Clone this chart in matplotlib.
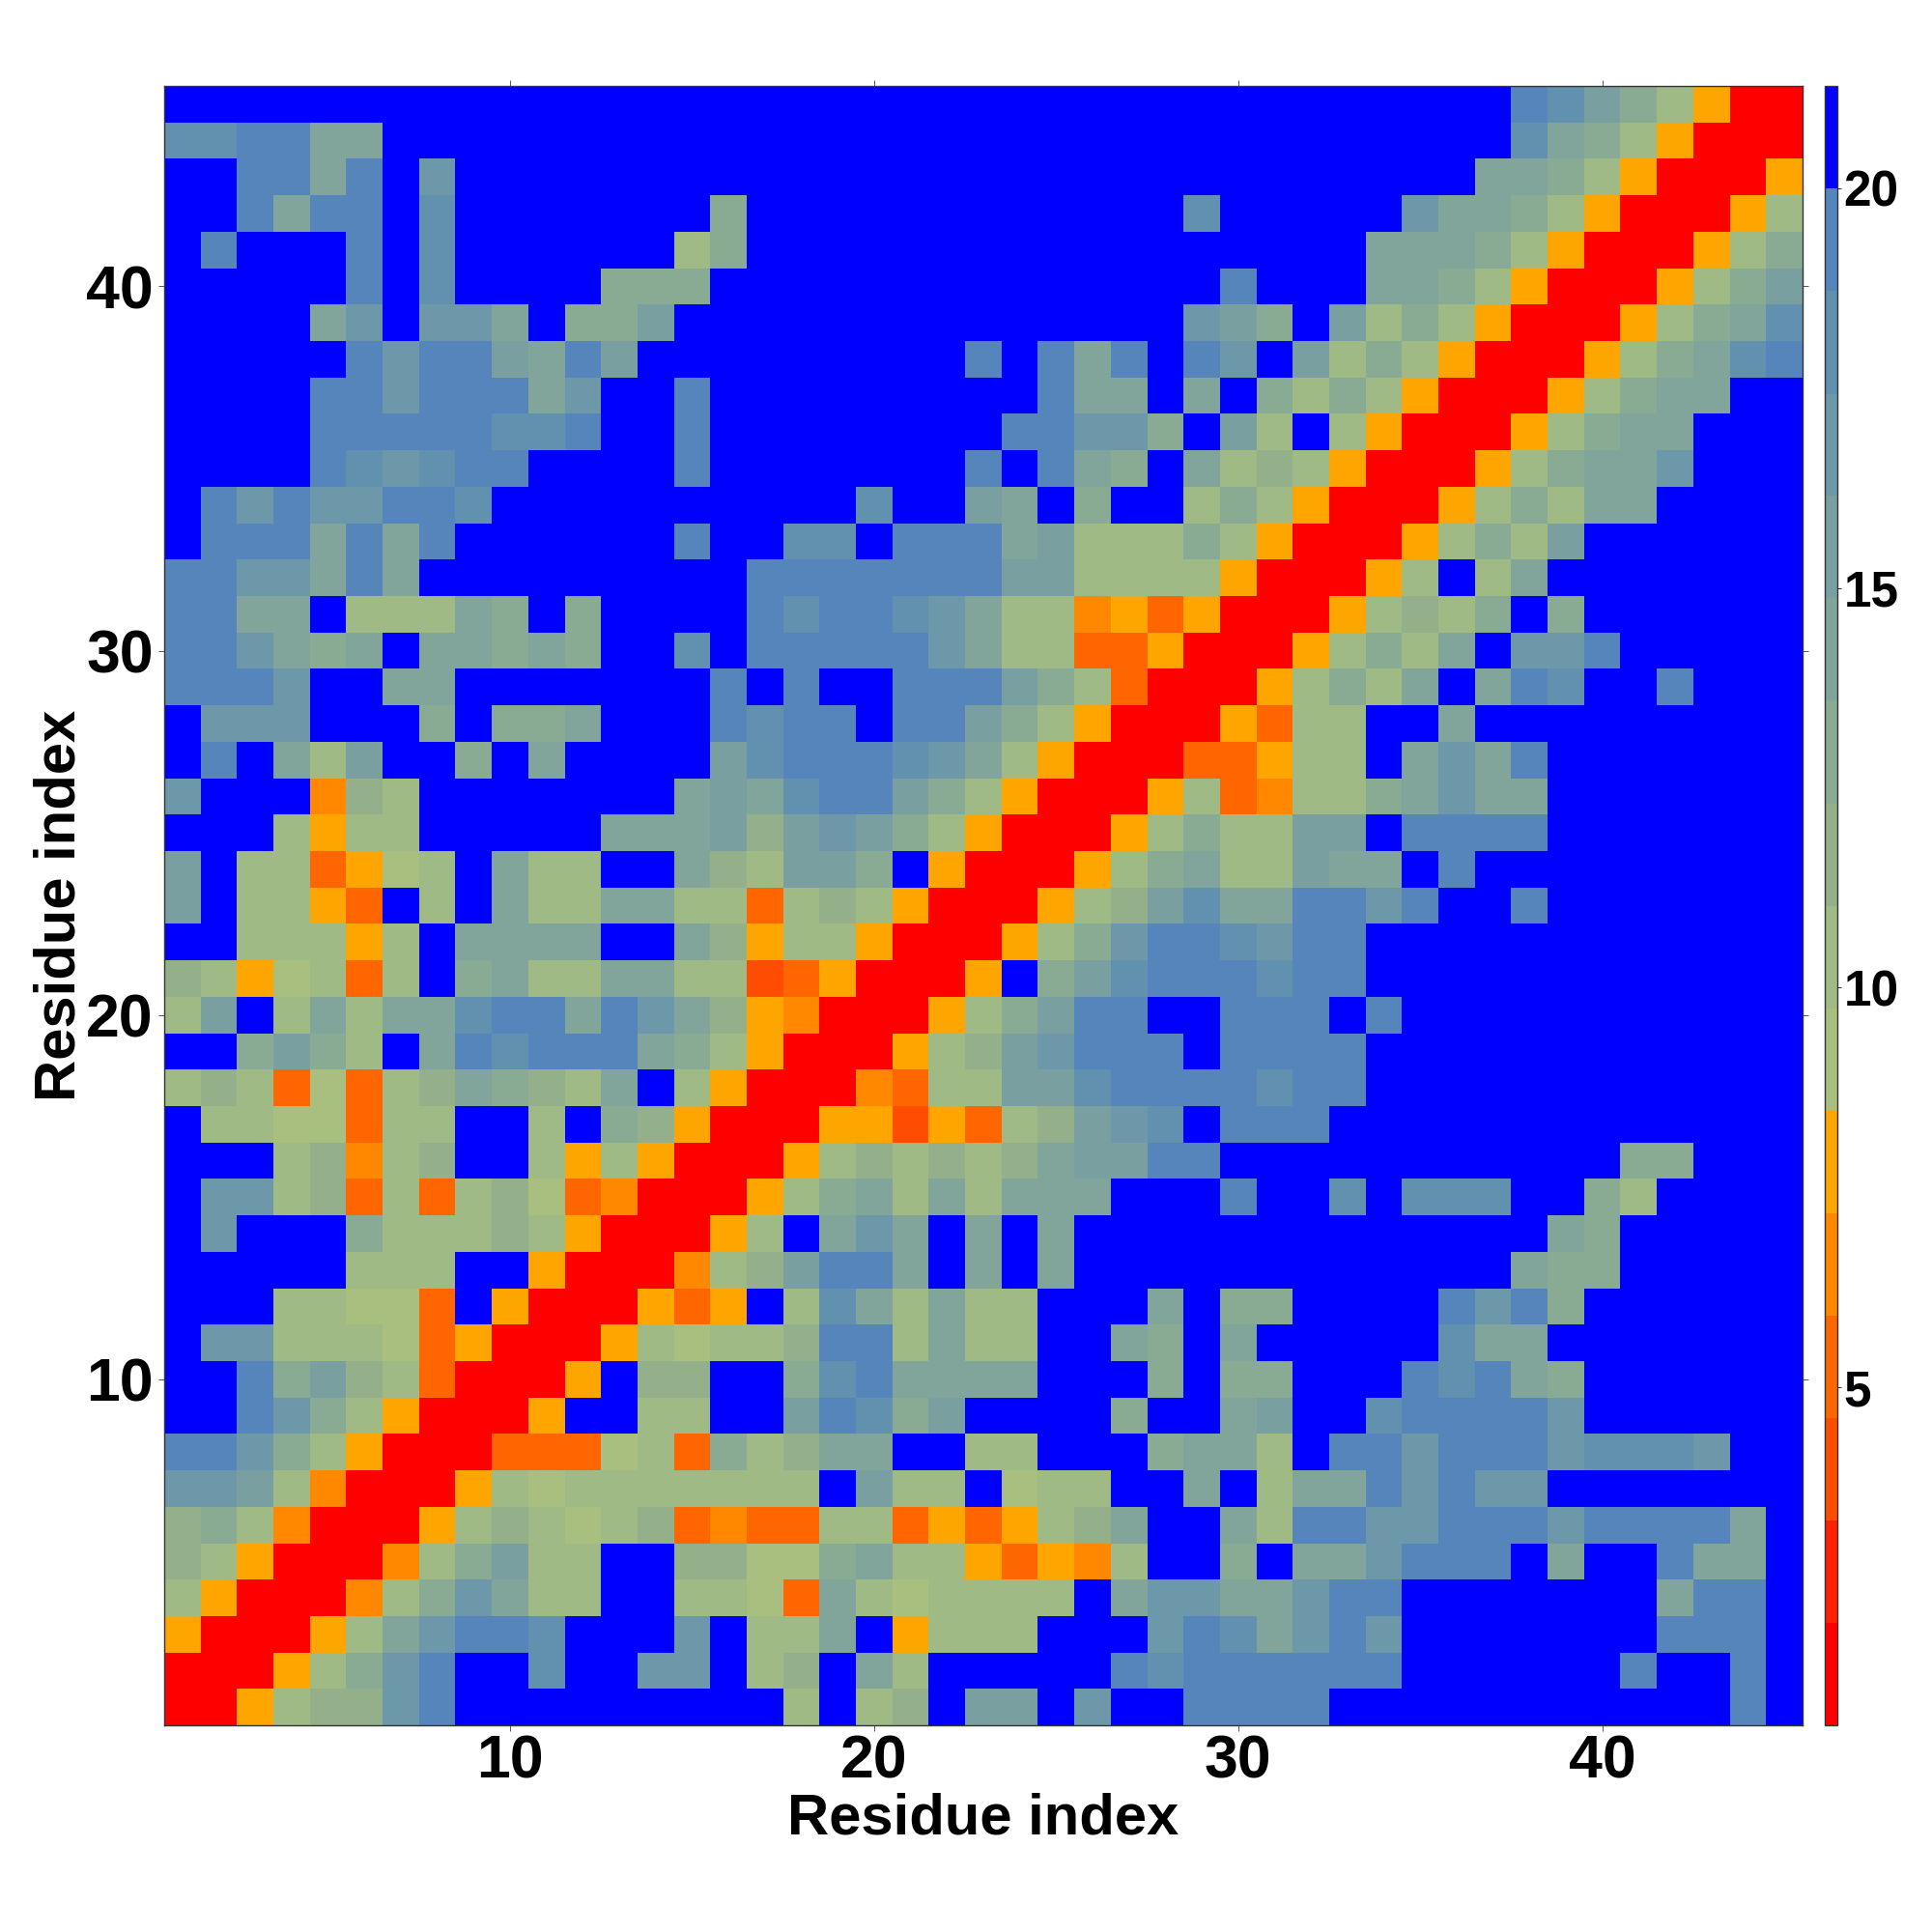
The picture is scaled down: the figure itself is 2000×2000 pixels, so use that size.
import numpy as np
import matplotlib
matplotlib.use("Agg")
import matplotlib.pyplot as plt
from matplotlib.colors import ListedColormap, BoundaryNorm

# One string per row, top row (residue 45) first. Each character is the colour band.
band_rows = [
"FFFFFFFFFFFFFFF FFFFFFFFFFFFFFF FFFFFFFEDB97500",
"DDEEAAFFFFFFFFF FFFFFFFFFFFFFFF FFFFFFFDA975000",
"FFEEAEFCFFFFFFF FFFFFFFFFFFFFFF FFFFFFAA9750005",
"FFEAEEFDFFFFFFF 9FFFFFFFFFFFFDF FFFFCAA97500057",
"FEFFFEFDFFFFFF7 9FFFFFFFFFFFFFF FFFAAA975000579",
"FFFFFEFDFFFF999 FFFFFFFFFFFFFFE FFFAA975000579B",
"FFFFACFCCAF99BF FFFFFFFFFFFFFCB 9FB7975000579AD",
"FFFFFECEEBAEBFF FFFFFFFEFEAEFEC FB7975000579ADE",
"FFFFEECEEEACFFE FFFFFFFFFEAAFAF 97975000579AAFF",
"FFFFEEEEEDDEFFE FFFFFFFFEECC9FB 7F75000579AAFFF",
"FFFFEDCDEEFFFFE FFFFFFFEFEA9FA7 875000579AACFFF",
"FECECCEEDFFFFFF FFFFDFFBAF9FF79 750005797AAFFFF",
"FEEEAEAEFFFFFFE FFDDFEEEAB77797 50005797BFFFFFF",
"EECCAEAFFFFFFFF FEEEEEEEBB77775 00057F7AFFFFFFF",
"EEAAF777A9F9FFF FEDEEDCA7745350 0057879F9FFFFFF",
"EECA9AFAA9A9FFD FEEEEECA7733500 05797AFCCEFFFFF",
"EEECFFAAFFFFFFF EFEFFEEEB973000 5797AFAEDFFEFFF",
"FCCCFFF9F99AFFF EDEEFEEB9750005 377FFAFFFFFFFFF",
"FEFA7BFF9FAFFFF BDEEEDCA7500033 577FACAEFFFFFFF",
"CFFF487FFFFFFFA BADEEB975000573 4779ACAAFFFFFFF",
"FFF7577FFFFFAAA B8BCB9750005797 7BBFEEEEFFFFFFF",
"BF773567FA77FFA 87BB9F5000579A7 7BAAFEFFFFFFFFF",
"BF7753F7FA77AA7 737875000578BDA AEECEFFEFFFFFFF",
"FF77757FAAAAFFA 85775000579CEED CEEFFFFFFFFFFFF",
"8756737F9A77AA7 72350005F9BDEEE DEEFFFFFFFFFFFF",
"7BF7A7AADEEAECA 854000579BEEFFE EEFEFFFFFFFFFFF",
"FF9B97FAEDEEEA9 75000578BCEEEFE EEEFFFFFFFFFFFF",
"78736378A987AF7 50004377BBDEEEE DEEFFFFFFFFFFFF",
"F7766377FF7F985 0005525378BCDFE EEFFFFFFFFFFFFF",
"FFF78478FF75750 005787878ABBEEF FFFFFFFFFF99FFF",
"FCC783737863400 0579A7A7AAAFFFE FFDFDDDFF97FFFF",
"FCFFF9777875000 57FACAFAFAFFFFF FFFFFFFFA9FFFFF",
"FFFFF777FF50004 78BEEAFAFAFFFFF FFFFFFFA99FFFFF",
"FFF77663F500053 5F7DA7A77FFFAF9 9FFFFECE9FFFFFF",
"FCC777635000576 778EE7A77FFA9FA FFFFFDAAFFFFFFF",
"FFE9B8730005F88 FF9DEAAAAFFF9F9 9FFFEDEA9FFFFFF",
"FFEC9750005FF77 FFBED9BFFFF9FFA BFFDEEEECFFFFFF",
"EEC975000333673 978AAFF77FFF9AA 7FEECEEECDDDCFF",
"CCB740005767777 777FB77F677FFAF 7AAECECCFFFFFFF",
"897400057876783 43377353578AFFA 7EECCEEECEEEEAF",
"875000479B77FF8 8669A7753547FF9 FAACEEEFAFFEAAF",
"75000479CA77FF7 763A767777FACCA ACEEFFFFFFFAEEF",
"500057ACEEDFFFC F77AF5777FFFCED ACECFFFFFFFEEEF",
"000579CEFFDFFCC F78FA7FFFFFEDEE EEEEFFFFFFEFFEF",
"005788CEFFFFFFF FF7F78FBBFCFFEE EEFFFFFFFFFFFEF",
]

band_colors = ["#FF0000", "#FF2000", "#FF4D00", "#FF6600", "#FF8800", "#FFA500",
               "#A8BF80", "#9FBA85", "#94B08B", "#8AAB93", "#81A59A", "#7A9FA0",
               "#6C98A9", "#6291B0", "#5585BA", "#0000FF"]
band_edges = [0.77, 2.05, 3.33, 4.61, 5.89, 7.18, 8.46, 9.74, 11.02, 12.30,
              13.59, 14.87, 16.15, 17.43, 18.72, 20.0, 21.28]
band_values = [1.4, 2.7, 4.0, 5.2, 6.5, 7.8, 9.1, 10.4, 11.7, 12.9,
               14.2, 15.5, 16.8, 18.1, 19.4, 20.6]
tick_positions = [10, 20, 30, 40]
cbar_ticks = [5, 10, 15, 20]
axis_label = "Residue index"

rows = [r.replace(" ", "") for r in band_rows]
bad = [i for i, r in enumerate(rows) if len(r) != 45]
assert not bad, bad
levels = np.array([[int(c, 16) for c in r] for r in rows])
values = np.array(band_values)[levels]

plt.rcParams["font.family"] = ["Liberation Sans", "DejaVu Sans"]
plt.rcParams["font.weight"] = "bold"

fig = plt.figure(figsize=(20, 20), dpi=100)
S = 2000.0
ax = fig.add_axes([170 / S, 1 - 1786 / S, (1866 - 170) / S, (1786 - 89) / S])
cax = fig.add_axes([1889 / S, 1 - 1786 / S, (1902 - 1889) / S, (1786 - 89) / S])

cmap = ListedColormap(band_colors)
norm = BoundaryNorm(band_edges, cmap.N)
im = ax.imshow(values[::-1], origin="lower", extent=(0.5, 45.5, 0.5, 45.5),
               cmap=cmap, norm=norm, aspect="auto", interpolation="nearest")

ax.set_xticks(tick_positions)
ax.set_yticks(tick_positions)
ax.tick_params(axis="x", labelsize=45, length=4.5, width=0.7, color="#555555",
               direction="out", top=True, bottom=True, pad=1.5)
ax.tick_params(axis="y", labelsize=45, length=4.5, width=0.7, color="#555555",
               direction="out", left=True, right=True, pad=3.5)
ax.set_xlabel(axis_label, fontsize=43, fontweight="bold", labelpad=1.5)
ax.set_ylabel(axis_label, fontsize=43, fontweight="bold", labelpad=-0.5)
for s in ax.spines.values():
    s.set_linewidth(1)
    s.set_color("#333333")

cb = fig.colorbar(im, cax=cax, ticks=cbar_ticks, spacing="proportional")
cb.ax.tick_params(labelsize=37, length=3, width=0.7, color="#333333", pad=1.7)
cb.ax.minorticks_off()
cb.outline.set_linewidth(1)
cb.outline.set_edgecolor("#333333")
cb.set_ticklabels([str(t) for t in cbar_ticks])

fig.savefig("out.png", dpi=100)
